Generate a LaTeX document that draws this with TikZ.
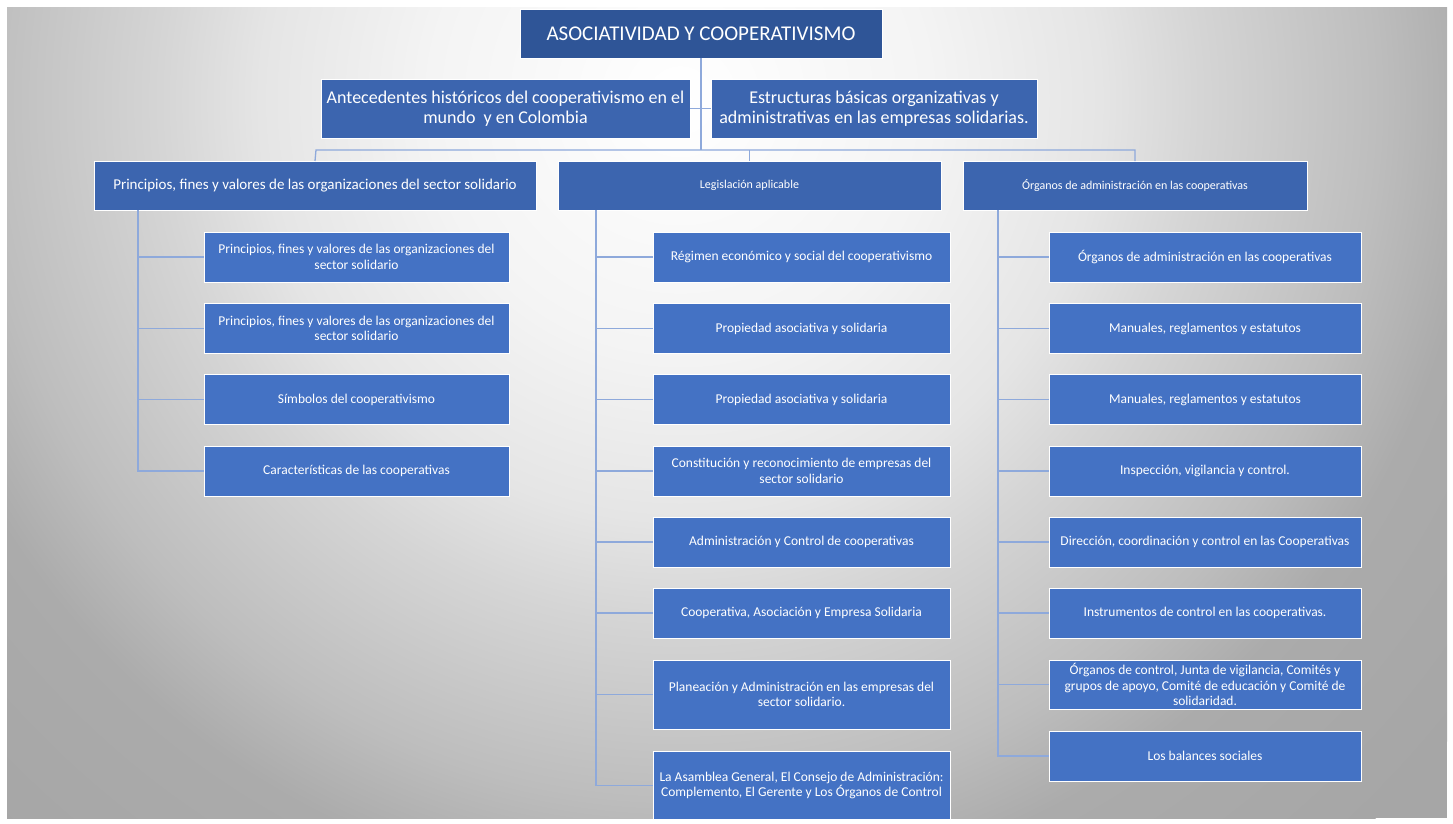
\documentclass[tikz,border=0pt]{standalone}
\usepackage{fontspec}
\setmainfont{Carlito}
\definecolor{rootc}{HTML}{2F5597}
\definecolor{midc}{HTML}{3C65AF}
\definecolor{leafc}{HTML}{4472C4}
\definecolor{linkc}{HTML}{8EA9DB}
\definecolor{bg1}{HTML}{F4F4F4}
\definecolor{bg2}{HTML}{E5E5E5}
\definecolor{bg3}{HTML}{D5D5D5}
\definecolor{bg4}{HTML}{BDBDBD}
\definecolor{bg5}{HTML}{ABABAB}
\definecolor{bg6}{HTML}{A6A6A6}
\pgfdeclareradialshading{slidebg}{\pgfpoint{0bp}{0bp}}{color(0bp)=(white); color(6.25bp)=(bg1); color(10.5bp)=(bg2); color(13bp)=(bg3); color(17.5bp)=(bg4); color(20bp)=(bg5); color(25bp)=(bg6); color(50bp)=(bg6)}
\tikzset{
  box/.style={rectangle, draw=white, line width=0.8pt, text=white, align=center, inner sep=2pt, outer sep=0pt},
  rootbox/.style={box, fill=rootc, font=\fontsize{21}{25}\selectfont},
  topbox/.style={box, fill=midc, font=\fontsize{18}{20}\selectfont},
  secbox/.style={box, fill=midc},
  leaf/.style={box, fill=leafc, font=\fontsize{13.5}{15.5}\selectfont},
  link/.style={draw=linkc, line width=1.3pt}
}
\begin{document}
\begin{tikzpicture}[x=1pt,y=-1pt]
\useasboundingbox (0,0) rectangle (1453,824);
\fill[white] (0,0) rectangle (1453,824);
\begin{scope}
\clip (7,8) rectangle (1447,818);
\fill[bg6] (7,8) rectangle (1447,818);
\shade[shading=slidebg] (680,100) circle (1000pt);
% connectors
\coordinate (bl) at (316,150);
\coordinate (br) at (1135,150);
\coordinate (bm) at (749.5,150);
\coordinate (tj) at (701,150);
\coordinate (ta) at (138,210);
\coordinate (tb) at (596,210);
\coordinate (tc) at (998,210);
% nodes
\node[rootbox, minimum width=362pt, minimum height=49pt] (root) at (701,33.5) {ASOCIATIVIDAD Y COOPERATIVISMO};
\node[topbox, minimum width=369pt, minimum height=59pt] (ant) at (505.5,108.5) {Antecedentes históricos del cooperativismo en el\\mundo\ \ y en Colombia};
\node[topbox, minimum width=326pt, minimum height=59pt] (est) at (874,108.5) {Estructuras básicas organizativas y\\administrativas en las empresas solidarias.};
\node[secbox, minimum width=442pt, minimum height=49pt, font=\fontsize{15}{18}\selectfont] (pa) at (315,185.5) {Principios, fines y valores de las organizaciones del sector solidario};
\node[secbox, minimum width=383pt, minimum height=49pt, font=\fontsize{12}{14}\selectfont] (pb) at (749.5,185.5) {Legislación aplicable};
\node[secbox, minimum width=344pt, minimum height=49pt, font=\fontsize{12}{14}\selectfont] (pc) at (1135,185.5) {Órganos de administración en las cooperativas};
% left leaves
\node[leaf, minimum width=305pt, minimum height=50pt] (a1) at (356.5,257) {Principios, fines y valores de las organizaciones del\\sector solidario};
\node[leaf, minimum width=305pt, minimum height=50pt] (a2) at (356.5,328.5) {Principios, fines y valores de las organizaciones del\\sector solidario};
\node[leaf, minimum width=305pt, minimum height=50pt] (a3) at (356.5,399.5) {Símbolos del cooperativismo};
\node[leaf, minimum width=305pt, minimum height=50pt] (a4) at (356.5,471) {Características de las cooperativas};
% middle leaves
\node[leaf, minimum width=297pt, minimum height=50pt] (b1) at (801.5,257) {Régimen económico y social del cooperativismo};
\node[leaf, minimum width=297pt, minimum height=50pt] (b2) at (801.5,328.5) {Propiedad asociativa y solidaria};
\node[leaf, minimum width=297pt, minimum height=50pt] (b3) at (801.5,399.5) {Propiedad asociativa y solidaria};
\node[leaf, minimum width=297pt, minimum height=50pt] (b4) at (801.5,471) {Constitución y reconocimiento de empresas del\\sector solidario};
\node[leaf, minimum width=297pt, minimum height=50pt] (b5) at (801.5,542) {Administración y Control de cooperativas};
\node[leaf, minimum width=297pt, minimum height=50pt] (b6) at (801.5,613) {Cooperativa, Asociación y Empresa Solidaria};
\node[leaf, minimum width=297pt, minimum height=69pt] (b7) at (801.5,694.5) {Planeación y Administración en las empresas del\\sector solidario.};
\node[leaf, minimum width=297pt, minimum height=69pt] (b8) at (801.5,785.5) {La Asamblea General, El Consejo de Administración:\\Complemento, El Gerente y Los Órganos de Control};
% right leaves
\node[leaf, minimum width=312pt, minimum height=50pt] (c1) at (1205,257) {Órganos de administración en las cooperativas};
\node[leaf, minimum width=312pt, minimum height=50pt] (c2) at (1205,328.5) {Manuales, reglamentos y estatutos};
\node[leaf, minimum width=312pt, minimum height=50pt] (c3) at (1205,399.5) {Manuales, reglamentos y estatutos};
\node[leaf, minimum width=312pt, minimum height=50pt] (c4) at (1205,471) {Inspección, vigilancia y control.};
\node[leaf, minimum width=312pt, minimum height=50pt] (c5) at (1205,542) {Dirección, coordinación y control en las Cooperativas};
\node[leaf, minimum width=312pt, minimum height=50pt] (c6) at (1205,613) {Instrumentos de control en las cooperativas.};
\node[leaf, minimum width=312pt, minimum height=49pt] (c7) at (1205,684.5) {Órganos de control, Junta de vigilancia, Comités y\\grupos de apoyo, Comité de educación y Comité de\\solidaridad.};
\node[leaf, minimum width=312pt, minimum height=50pt] (c8) at (1205,756) {Los balances sociales};
% links
\path[link] (root.south) -- (tj);
\path[link] (ant.east) -- (est.west);
\path[link] (pa.north) -- (bl) -- (br) -- (pc.north);
\path[link] (bm) -- (pb.north);
\foreach \n in {a1,a2,a3,a4} \path[link] (ta) |- (\n.west);
\foreach \n in {b1,b2,b3,b4,b5,b6,b7,b8} \path[link] (tb) |- (\n.west);
\foreach \n in {c1,c2,c3,c4,c5,c6,c7,c8} \path[link] (tc) |- (\n.west);
\end{scope}
\end{tikzpicture}
\end{document}
